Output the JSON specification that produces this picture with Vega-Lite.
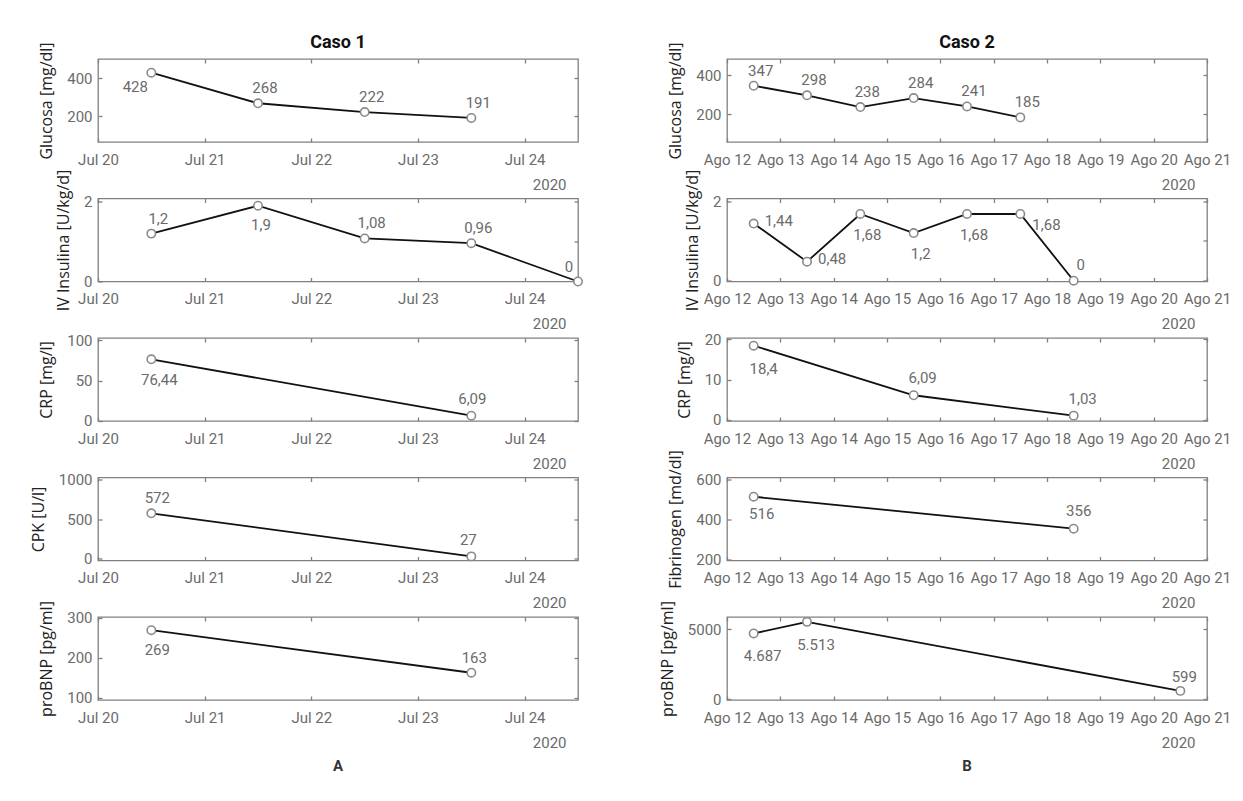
{
  "$schema": "https://vega.github.io/schema/vega-lite/v6.json",
  "background": "white",
  "padding": {"left": 29, "top": 33, "right": 5, "bottom": 5},
  "config": {
    "locale": {
      "number": {"decimal": ",", "thousands": ".", "grouping": [3], "currency": ["", " €"]},
      "time": {"dateTime": "%A, %e de %B de %Y, %X", "date": "%d/%m/%Y", "time": "%H:%M:%S", "periods": ["AM", "PM"],
        "days": ["domingo", "lunes", "martes", "miércoles", "jueves", "viernes", "sábado"],
        "shortDays": ["dom", "lun", "mar", "mié", "jue", "vie", "sáb"],
        "months": ["enero", "febrero", "marzo", "abril", "mayo", "junio", "julio", "agosto", "septiembre", "octubre", "noviembre", "diciembre"],
        "shortMonths": ["Ene", "Feb", "Mar", "Abr", "May", "Jun", "Jul", "Ago", "Sep", "Oct", "Nov", "Dic"]}
    },
    "view": {"stroke": "#808080", "strokeWidth": 1.3},
    "axis": {"domain": false, "grid": false, "tickSize": -4, "tickColor": "#808080", "tickWidth": 1.3,
      "labelFont": "Roboto", "labelFontSize": 15, "labelColor": "#6b6b6b",
      "labelFlush": false, "labelOverlap": false,
      "titleFont": "Open Sans", "titleFontSize": 16, "titleFontWeight": "normal", "titleColor": "#222"},
    "axisBottom": {"labelPadding": 14},
    "axisLeft": {"labelPadding": 10, "titlePadding": 12},
    "axisTop": {"labels": false},
    "axisRight": {"labels": false},
    "title": {"font": "Roboto", "fontSize": 18, "fontWeight": "bold", "color": "#111", "frame": "group", "anchor": "middle", "offset": -10, "baseline": "alphabetic"},
    "text": {"font": "Roboto", "fontSize": 15, "color": "#6b6b6b", "baseline": "middle", "align": "center"}
  },
  "datasets": {
    "c1_glu": [{"fecha": "2020-07-20T12:00", "valor": 428}, {"fecha": "2020-07-21T12:00", "valor": 268}, {"fecha": "2020-07-22T12:00", "valor": 222}, {"fecha": "2020-07-23T12:00", "valor": 191}],
    "c1_ins": [{"fecha": "2020-07-20T12:00", "valor": 1.2}, {"fecha": "2020-07-21T12:00", "valor": 1.9}, {"fecha": "2020-07-22T12:00", "valor": 1.08}, {"fecha": "2020-07-23T12:00", "valor": 0.96}, {"fecha": "2020-07-24T12:00", "valor": 0}],
    "c1_crp": [{"fecha": "2020-07-20T12:00", "valor": 76.44}, {"fecha": "2020-07-23T12:00", "valor": 6.09}],
    "c1_cpk": [{"fecha": "2020-07-20T12:00", "valor": 572}, {"fecha": "2020-07-23T12:00", "valor": 27}],
    "c1_bnp": [{"fecha": "2020-07-20T12:00", "valor": 269}, {"fecha": "2020-07-23T12:00", "valor": 163}],
    "c2_glu": [{"fecha": "2020-08-12T12:00", "valor": 347}, {"fecha": "2020-08-13T12:00", "valor": 298}, {"fecha": "2020-08-14T12:00", "valor": 238}, {"fecha": "2020-08-15T12:00", "valor": 284}, {"fecha": "2020-08-16T12:00", "valor": 241}, {"fecha": "2020-08-17T12:00", "valor": 185}],
    "c2_ins": [{"fecha": "2020-08-12T12:00", "valor": 1.44}, {"fecha": "2020-08-13T12:00", "valor": 0.48}, {"fecha": "2020-08-14T12:00", "valor": 1.68}, {"fecha": "2020-08-15T12:00", "valor": 1.2}, {"fecha": "2020-08-16T12:00", "valor": 1.68}, {"fecha": "2020-08-17T12:00", "valor": 1.68}, {"fecha": "2020-08-18T12:00", "valor": 0}],
    "c2_crp": [{"fecha": "2020-08-12T12:00", "valor": 18.4}, {"fecha": "2020-08-15T12:00", "valor": 6.09}, {"fecha": "2020-08-18T12:00", "valor": 1.03}],
    "c2_fib": [{"fecha": "2020-08-12T12:00", "valor": 516}, {"fecha": "2020-08-18T12:00", "valor": 356}],
    "c2_bnp": [{"fecha": "2020-08-12T12:00", "valor": 4687}, {"fecha": "2020-08-13T12:00", "valor": 5513}, {"fecha": "2020-08-20T12:00", "valor": 599}]
  },
  "columns": 2,
  "spacing": {"row": 56.5, "column": 149},
  "bounds": "flush",
  "concat": [
    {"width": 480, "height": 83, "data": {"name": "c1_glu"}, "title": {"text": "Caso 1"},
     "encoding": {"x": {"field": "fecha", "type": "temporal", "scale": {"domain": [{"year": 2020, "month": 7, "date": 20}, {"year": 2020, "month": 7, "date": 24, "hours": 12}], "nice": false}, "axis": null},
                  "y": {"field": "valor", "type": "quantitative", "scale": {"domain": [65, 500], "nice": false, "zero": false}, "axis": null}},
     "layer": [
       {"mark": {"type": "line", "color": "#111", "strokeWidth": 1.8},
        "encoding": {"x": {"field": "fecha", "type": "temporal", "scale": {"domain": [{"year": 2020, "month": 7, "date": 20}, {"year": 2020, "month": 7, "date": 24, "hours": 12}], "nice": false}, "axis": {"orient": "bottom", "title": "2020", "format": "%b %-d", "tickCount": {"interval": "day", "step": 1}, "titleX": 468, "titleY": 47, "titleAlign": "right", "titleBaseline": "alphabetic", "titleFont": "Roboto", "titleFontSize": 15, "titleColor": "#6b6b6b"}},
                     "y": {"field": "valor", "type": "quantitative", "scale": {"domain": [65, 500], "nice": false, "zero": false}, "axis": {"orient": "left", "title": "Glucosa [mg/dl]", "values": [200, 400], "format": "d"}}}},
       {"mark": {"type": "point", "shape": "circle", "fill": "white", "stroke": "#8a8a8a", "strokeWidth": 1.6, "size": 70, "opacity": 1},
        "encoding": {"x": {"field": "fecha", "type": "temporal", "scale": {"domain": [{"year": 2020, "month": 7, "date": 20}, {"year": 2020, "month": 7, "date": 24, "hours": 12}], "nice": false}, "axis": {"orient": "top", "title": null, "tickCount": {"interval": "day", "step": 1}}},
                     "y": {"field": "valor", "type": "quantitative", "scale": {"domain": [65, 500], "nice": false, "zero": false}, "axis": {"orient": "right", "title": null, "values": [200, 400]}}}},
       {"transform": [{"filter": "datum.valor != 428"}], "mark": {"type": "text", "dx": 7, "dy": -15}, "encoding": {"text": {"field": "valor", "type": "quantitative", "format": ",.4~r"}}},
       {"transform": [{"filter": "datum.valor == 428"}], "mark": {"type": "text", "dx": -16, "dy": 14}, "encoding": {"text": {"field": "valor", "type": "quantitative", "format": ",.4~r"}}}
     ],
     "resolve": {"axis": {"x": "independent", "y": "independent"}}},

    {"width": 480, "height": 83, "data": {"name": "c2_glu"}, "title": {"text": "Caso 2"},
     "encoding": {"x": {"field": "fecha", "type": "temporal", "scale": {"domain": [{"year": 2020, "month": 8, "date": 12}, {"year": 2020, "month": 8, "date": 21}], "nice": false}, "axis": null},
                  "y": {"field": "valor", "type": "quantitative", "scale": {"domain": [59, 484], "nice": false, "zero": false}, "axis": null}},
     "layer": [
       {"mark": {"type": "line", "color": "#111", "strokeWidth": 1.8},
        "encoding": {"x": {"field": "fecha", "type": "temporal", "scale": {"domain": [{"year": 2020, "month": 8, "date": 12}, {"year": 2020, "month": 8, "date": 21}], "nice": false}, "axis": {"orient": "bottom", "title": "2020", "format": "%b %-d", "tickCount": {"interval": "day", "step": 1}, "titleX": 468, "titleY": 47, "titleAlign": "right", "titleBaseline": "alphabetic", "titleFont": "Roboto", "titleFontSize": 15, "titleColor": "#6b6b6b"}},
                     "y": {"field": "valor", "type": "quantitative", "scale": {"domain": [59, 484], "nice": false, "zero": false}, "axis": {"orient": "left", "title": "Glucosa [mg/dl]", "values": [200, 400], "format": "d"}}}},
       {"mark": {"type": "point", "shape": "circle", "fill": "white", "stroke": "#8a8a8a", "strokeWidth": 1.6, "size": 70, "opacity": 1},
        "encoding": {"x": {"field": "fecha", "type": "temporal", "scale": {"domain": [{"year": 2020, "month": 8, "date": 12}, {"year": 2020, "month": 8, "date": 21}], "nice": false}, "axis": {"orient": "top", "title": null, "tickCount": {"interval": "day", "step": 1}}},
                     "y": {"field": "valor", "type": "quantitative", "scale": {"domain": [59, 484], "nice": false, "zero": false}, "axis": {"orient": "right", "title": null, "values": [200, 400]}}}},
       {"mark": {"type": "text", "dx": 7, "dy": -15}, "encoding": {"text": {"field": "valor", "type": "quantitative", "format": ",.4~r"}}}
     ],
     "resolve": {"axis": {"x": "independent", "y": "independent"}}},

    {"width": 480, "height": 83, "data": {"name": "c1_ins"},
     "encoding": {"x": {"field": "fecha", "type": "temporal", "scale": {"domain": [{"year": 2020, "month": 7, "date": 20}, {"year": 2020, "month": 7, "date": 24, "hours": 12}], "nice": false}, "axis": null},
                  "y": {"field": "valor", "type": "quantitative", "scale": {"domain": [0, 2.08], "nice": false, "zero": false}, "axis": null}},
     "layer": [
       {"mark": {"type": "line", "color": "#111", "strokeWidth": 1.8},
        "encoding": {"x": {"field": "fecha", "type": "temporal", "scale": {"domain": [{"year": 2020, "month": 7, "date": 20}, {"year": 2020, "month": 7, "date": 24, "hours": 12}], "nice": false}, "axis": {"orient": "bottom", "title": "2020", "format": "%b %-d", "tickCount": {"interval": "day", "step": 1}, "titleX": 468, "titleY": 47, "titleAlign": "right", "titleBaseline": "alphabetic", "titleFont": "Roboto", "titleFontSize": 15, "titleColor": "#6b6b6b"}},
                     "y": {"field": "valor", "type": "quantitative", "scale": {"domain": [0, 2.08], "nice": false, "zero": false}, "axis": {"orient": "left", "title": "IV Insulina [U/kg/d]", "values": [0, 1, 2], "format": "d"}}}},
       {"mark": {"type": "point", "shape": "circle", "fill": "white", "stroke": "#8a8a8a", "strokeWidth": 1.6, "size": 70, "opacity": 1},
        "encoding": {"x": {"field": "fecha", "type": "temporal", "scale": {"domain": [{"year": 2020, "month": 7, "date": 20}, {"year": 2020, "month": 7, "date": 24, "hours": 12}], "nice": false}, "axis": {"orient": "top", "title": null, "tickCount": {"interval": "day", "step": 1}}},
                     "y": {"field": "valor", "type": "quantitative", "scale": {"domain": [0, 2.08], "nice": false, "zero": false}, "axis": {"orient": "right", "title": null, "values": [0, 1, 2]}}}},
       {"transform": [{"filter": "datum.valor != 1.9 && datum.valor != 0"}], "mark": {"type": "text", "dx": 7, "dy": -15}, "encoding": {"text": {"field": "valor", "type": "quantitative", "format": ",.4~r"}}},
       {"transform": [{"filter": "datum.valor == 1.9"}], "mark": {"type": "text", "dx": 3, "dy": 19}, "encoding": {"text": {"field": "valor", "type": "quantitative", "format": ",.4~r"}}},
       {"transform": [{"filter": "datum.valor == 0"}], "mark": {"type": "text", "dx": -9, "dy": -15}, "encoding": {"text": {"field": "valor", "type": "quantitative", "format": ",.4~r"}}}
     ],
     "resolve": {"axis": {"x": "independent", "y": "independent"}}},

    {"width": 480, "height": 83, "data": {"name": "c2_ins"},
     "encoding": {"x": {"field": "fecha", "type": "temporal", "scale": {"domain": [{"year": 2020, "month": 8, "date": 12}, {"year": 2020, "month": 8, "date": 21}], "nice": false}, "axis": null},
                  "y": {"field": "valor", "type": "quantitative", "scale": {"domain": [-0.02, 2.07], "nice": false, "zero": false}, "axis": null}},
     "layer": [
       {"mark": {"type": "line", "color": "#111", "strokeWidth": 1.8},
        "encoding": {"x": {"field": "fecha", "type": "temporal", "scale": {"domain": [{"year": 2020, "month": 8, "date": 12}, {"year": 2020, "month": 8, "date": 21}], "nice": false}, "axis": {"orient": "bottom", "title": "2020", "format": "%b %-d", "tickCount": {"interval": "day", "step": 1}, "titleX": 468, "titleY": 47, "titleAlign": "right", "titleBaseline": "alphabetic", "titleFont": "Roboto", "titleFontSize": 15, "titleColor": "#6b6b6b"}},
                     "y": {"field": "valor", "type": "quantitative", "scale": {"domain": [-0.02, 2.07], "nice": false, "zero": false}, "axis": {"orient": "left", "title": "IV Insulina [U/kg/d]", "values": [0, 1, 2], "format": "d"}}}},
       {"mark": {"type": "point", "shape": "circle", "fill": "white", "stroke": "#8a8a8a", "strokeWidth": 1.6, "size": 70, "opacity": 1},
        "encoding": {"x": {"field": "fecha", "type": "temporal", "scale": {"domain": [{"year": 2020, "month": 8, "date": 12}, {"year": 2020, "month": 8, "date": 21}], "nice": false}, "axis": {"orient": "top", "title": null, "tickCount": {"interval": "day", "step": 1}}},
                     "y": {"field": "valor", "type": "quantitative", "scale": {"domain": [-0.02, 2.07], "nice": false, "zero": false}, "axis": {"orient": "right", "title": null, "values": [0, 1, 2]}}}},
       {"transform": [{"filter": "datum.valor == 0"}], "mark": {"type": "text", "dx": 7, "dy": -16}, "encoding": {"text": {"field": "valor", "type": "quantitative", "format": ",.4~r"}}},
       {"transform": [{"filter": "datum.valor == 1.44 || datum.valor == 0.48"}], "mark": {"type": "text", "align": "left", "dx": 11, "dy": -3}, "encoding": {"text": {"field": "valor", "type": "quantitative", "format": ",.4~r"}}},
       {"transform": [{"filter": "datum.valor == 1.68 && date(toDate(datum.fecha)) == 17"}], "mark": {"type": "text", "align": "left", "dx": 12, "dy": 11}, "encoding": {"text": {"field": "valor", "type": "quantitative", "format": ",.4~r"}}},
       {"transform": [{"filter": "datum.valor == 1.2 || (datum.valor == 1.68 && date(toDate(datum.fecha)) != 17)"}], "mark": {"type": "text", "dx": 7, "dy": 21}, "encoding": {"text": {"field": "valor", "type": "quantitative", "format": ",.4~r"}}}
     ],
     "resolve": {"axis": {"x": "independent", "y": "independent"}}},

    {"width": 480, "height": 83, "data": {"name": "c1_crp"},
     "encoding": {"x": {"field": "fecha", "type": "temporal", "scale": {"domain": [{"year": 2020, "month": 7, "date": 20}, {"year": 2020, "month": 7, "date": 24, "hours": 12}], "nice": false}, "axis": null},
                  "y": {"field": "valor", "type": "quantitative", "scale": {"domain": [-0.5, 103], "nice": false, "zero": false}, "axis": null}},
     "layer": [
       {"mark": {"type": "line", "color": "#111", "strokeWidth": 1.8},
        "encoding": {"x": {"field": "fecha", "type": "temporal", "scale": {"domain": [{"year": 2020, "month": 7, "date": 20}, {"year": 2020, "month": 7, "date": 24, "hours": 12}], "nice": false}, "axis": {"orient": "bottom", "title": "2020", "format": "%b %-d", "tickCount": {"interval": "day", "step": 1}, "titleX": 468, "titleY": 47, "titleAlign": "right", "titleBaseline": "alphabetic", "titleFont": "Roboto", "titleFontSize": 15, "titleColor": "#6b6b6b"}},
                     "y": {"field": "valor", "type": "quantitative", "scale": {"domain": [-0.5, 103], "nice": false, "zero": false}, "axis": {"orient": "left", "title": "CRP [mg/l]", "values": [0, 50, 100], "format": "d"}}}},
       {"mark": {"type": "point", "shape": "circle", "fill": "white", "stroke": "#8a8a8a", "strokeWidth": 1.6, "size": 70, "opacity": 1},
        "encoding": {"x": {"field": "fecha", "type": "temporal", "scale": {"domain": [{"year": 2020, "month": 7, "date": 20}, {"year": 2020, "month": 7, "date": 24, "hours": 12}], "nice": false}, "axis": {"orient": "top", "title": null, "tickCount": {"interval": "day", "step": 1}}},
                     "y": {"field": "valor", "type": "quantitative", "scale": {"domain": [-0.5, 103], "nice": false, "zero": false}, "axis": {"orient": "right", "title": null, "values": [0, 50, 100]}}}},
       {"transform": [{"filter": "datum.valor == 6.09"}], "mark": {"type": "text", "dx": 1, "dy": -17}, "encoding": {"text": {"field": "valor", "type": "quantitative", "format": ",.4~r"}}},
       {"transform": [{"filter": "datum.valor == 76.44"}], "mark": {"type": "text", "dx": 8, "dy": 21}, "encoding": {"text": {"field": "valor", "type": "quantitative", "format": ",.4~r"}}}
     ],
     "resolve": {"axis": {"x": "independent", "y": "independent"}}},

    {"width": 480, "height": 83, "data": {"name": "c2_crp"},
     "encoding": {"x": {"field": "fecha", "type": "temporal", "scale": {"domain": [{"year": 2020, "month": 8, "date": 12}, {"year": 2020, "month": 8, "date": 21}], "nice": false}, "axis": null},
                  "y": {"field": "valor", "type": "quantitative", "scale": {"domain": [-0.3, 20.3], "nice": false, "zero": false}, "axis": null}},
     "layer": [
       {"mark": {"type": "line", "color": "#111", "strokeWidth": 1.8},
        "encoding": {"x": {"field": "fecha", "type": "temporal", "scale": {"domain": [{"year": 2020, "month": 8, "date": 12}, {"year": 2020, "month": 8, "date": 21}], "nice": false}, "axis": {"orient": "bottom", "title": "2020", "format": "%b %-d", "tickCount": {"interval": "day", "step": 1}, "titleX": 468, "titleY": 47, "titleAlign": "right", "titleBaseline": "alphabetic", "titleFont": "Roboto", "titleFontSize": 15, "titleColor": "#6b6b6b"}},
                     "y": {"field": "valor", "type": "quantitative", "scale": {"domain": [-0.3, 20.3], "nice": false, "zero": false}, "axis": {"orient": "left", "title": "CRP [mg/l]", "values": [0, 10, 20], "format": "d"}}}},
       {"mark": {"type": "point", "shape": "circle", "fill": "white", "stroke": "#8a8a8a", "strokeWidth": 1.6, "size": 70, "opacity": 1},
        "encoding": {"x": {"field": "fecha", "type": "temporal", "scale": {"domain": [{"year": 2020, "month": 8, "date": 12}, {"year": 2020, "month": 8, "date": 21}], "nice": false}, "axis": {"orient": "top", "title": null, "tickCount": {"interval": "day", "step": 1}}},
                     "y": {"field": "valor", "type": "quantitative", "scale": {"domain": [-0.3, 20.3], "nice": false, "zero": false}, "axis": {"orient": "right", "title": null, "values": [0, 10, 20]}}}},
       {"transform": [{"filter": "datum.valor != 18.4"}], "mark": {"type": "text", "dx": 9, "dy": -17}, "encoding": {"text": {"field": "valor", "type": "quantitative", "format": ",.4~r"}}},
       {"transform": [{"filter": "datum.valor == 18.4"}], "mark": {"type": "text", "dx": 10, "dy": 23}, "encoding": {"text": {"field": "valor", "type": "quantitative", "format": ",.4~r"}}}
     ],
     "resolve": {"axis": {"x": "independent", "y": "independent"}}},

    {"width": 480, "height": 83, "data": {"name": "c1_cpk"},
     "encoding": {"x": {"field": "fecha", "type": "temporal", "scale": {"domain": [{"year": 2020, "month": 7, "date": 20}, {"year": 2020, "month": 7, "date": 24, "hours": 12}], "nice": false}, "axis": null},
                  "y": {"field": "valor", "type": "quantitative", "scale": {"domain": [-25, 1025], "nice": false, "zero": false}, "axis": null}},
     "layer": [
       {"mark": {"type": "line", "color": "#111", "strokeWidth": 1.8},
        "encoding": {"x": {"field": "fecha", "type": "temporal", "scale": {"domain": [{"year": 2020, "month": 7, "date": 20}, {"year": 2020, "month": 7, "date": 24, "hours": 12}], "nice": false}, "axis": {"orient": "bottom", "title": "2020", "format": "%b %-d", "tickCount": {"interval": "day", "step": 1}, "titleX": 468, "titleY": 47, "titleAlign": "right", "titleBaseline": "alphabetic", "titleFont": "Roboto", "titleFontSize": 15, "titleColor": "#6b6b6b"}},
                     "y": {"field": "valor", "type": "quantitative", "scale": {"domain": [-25, 1025], "nice": false, "zero": false}, "axis": {"orient": "left", "title": "CPK [U/l]", "values": [0, 500, 1000], "format": "d"}}}},
       {"mark": {"type": "point", "shape": "circle", "fill": "white", "stroke": "#8a8a8a", "strokeWidth": 1.6, "size": 70, "opacity": 1},
        "encoding": {"x": {"field": "fecha", "type": "temporal", "scale": {"domain": [{"year": 2020, "month": 7, "date": 20}, {"year": 2020, "month": 7, "date": 24, "hours": 12}], "nice": false}, "axis": {"orient": "top", "title": null, "tickCount": {"interval": "day", "step": 1}}},
                     "y": {"field": "valor", "type": "quantitative", "scale": {"domain": [-25, 1025], "nice": false, "zero": false}, "axis": {"orient": "right", "title": null, "values": [0, 500, 1000]}}}},
       {"transform": [{"filter": "datum.valor == 572"}], "mark": {"type": "text", "dx": 6, "dy": -15}, "encoding": {"text": {"field": "valor", "type": "quantitative", "format": ",.4~r"}}},
       {"transform": [{"filter": "datum.valor == 27"}], "mark": {"type": "text", "dx": -3, "dy": -16}, "encoding": {"text": {"field": "valor", "type": "quantitative", "format": ",.4~r"}}}
     ],
     "resolve": {"axis": {"x": "independent", "y": "independent"}}},

    {"width": 480, "height": 83, "data": {"name": "c2_fib"},
     "encoding": {"x": {"field": "fecha", "type": "temporal", "scale": {"domain": [{"year": 2020, "month": 8, "date": 12}, {"year": 2020, "month": 8, "date": 21}], "nice": false}, "axis": null},
                  "y": {"field": "valor", "type": "quantitative", "scale": {"domain": [197, 612], "nice": false, "zero": false}, "axis": null}},
     "layer": [
       {"mark": {"type": "line", "color": "#111", "strokeWidth": 1.8},
        "encoding": {"x": {"field": "fecha", "type": "temporal", "scale": {"domain": [{"year": 2020, "month": 8, "date": 12}, {"year": 2020, "month": 8, "date": 21}], "nice": false}, "axis": {"orient": "bottom", "title": "2020", "format": "%b %-d", "tickCount": {"interval": "day", "step": 1}, "titleX": 468, "titleY": 47, "titleAlign": "right", "titleBaseline": "alphabetic", "titleFont": "Roboto", "titleFontSize": 15, "titleColor": "#6b6b6b"}},
                     "y": {"field": "valor", "type": "quantitative", "scale": {"domain": [197, 612], "nice": false, "zero": false}, "axis": {"orient": "left", "title": "Fibrinogen [md/dl]", "values": [200, 400, 600], "format": "d"}}}},
       {"mark": {"type": "point", "shape": "circle", "fill": "white", "stroke": "#8a8a8a", "strokeWidth": 1.6, "size": 70, "opacity": 1},
        "encoding": {"x": {"field": "fecha", "type": "temporal", "scale": {"domain": [{"year": 2020, "month": 8, "date": 12}, {"year": 2020, "month": 8, "date": 21}], "nice": false}, "axis": {"orient": "top", "title": null, "tickCount": {"interval": "day", "step": 1}}},
                     "y": {"field": "valor", "type": "quantitative", "scale": {"domain": [197, 612], "nice": false, "zero": false}, "axis": {"orient": "right", "title": null, "values": [200, 400, 600]}}}},
       {"transform": [{"filter": "datum.valor == 356"}], "mark": {"type": "text", "dx": 5, "dy": -18}, "encoding": {"text": {"field": "valor", "type": "quantitative", "format": ",.4~r"}}},
       {"transform": [{"filter": "datum.valor == 516"}], "mark": {"type": "text", "dx": 8, "dy": 17}, "encoding": {"text": {"field": "valor", "type": "quantitative", "format": ",.4~r"}}}
     ],
     "resolve": {"axis": {"x": "independent", "y": "independent"}}},

    {"width": 480, "height": 83, "data": {"name": "c1_bnp"}, "title": {"text": "A", "orient": "bottom", "fontSize": 15, "color": "#333", "baseline": "top", "offset": 9},
     "encoding": {"x": {"field": "fecha", "type": "temporal", "scale": {"domain": [{"year": 2020, "month": 7, "date": 20}, {"year": 2020, "month": 7, "date": 24, "hours": 12}], "nice": false}, "axis": null},
                  "y": {"field": "valor", "type": "quantitative", "scale": {"domain": [95, 302], "nice": false, "zero": false}, "axis": null}},
     "layer": [
       {"mark": {"type": "line", "color": "#111", "strokeWidth": 1.8},
        "encoding": {"x": {"field": "fecha", "type": "temporal", "scale": {"domain": [{"year": 2020, "month": 7, "date": 20}, {"year": 2020, "month": 7, "date": 24, "hours": 12}], "nice": false}, "axis": {"orient": "bottom", "title": "2020", "format": "%b %-d", "tickCount": {"interval": "day", "step": 1}, "titleX": 468, "titleY": 47, "titleAlign": "right", "titleBaseline": "alphabetic", "titleFont": "Roboto", "titleFontSize": 15, "titleColor": "#6b6b6b"}},
                     "y": {"field": "valor", "type": "quantitative", "scale": {"domain": [95, 302], "nice": false, "zero": false}, "axis": {"orient": "left", "title": "proBNP [pg/ml]", "values": [100, 200, 300], "format": "d"}}}},
       {"mark": {"type": "point", "shape": "circle", "fill": "white", "stroke": "#8a8a8a", "strokeWidth": 1.6, "size": 70, "opacity": 1},
        "encoding": {"x": {"field": "fecha", "type": "temporal", "scale": {"domain": [{"year": 2020, "month": 7, "date": 20}, {"year": 2020, "month": 7, "date": 24, "hours": 12}], "nice": false}, "axis": {"orient": "top", "title": null, "tickCount": {"interval": "day", "step": 1}}},
                     "y": {"field": "valor", "type": "quantitative", "scale": {"domain": [95, 302], "nice": false, "zero": false}, "axis": {"orient": "right", "title": null, "values": [100, 200, 300]}}}},
       {"transform": [{"filter": "datum.valor == 163"}], "mark": {"type": "text", "dx": 3, "dy": -15}, "encoding": {"text": {"field": "valor", "type": "quantitative", "format": ",.4~r"}}},
       {"transform": [{"filter": "datum.valor == 269"}], "mark": {"type": "text", "dx": 6, "dy": 20}, "encoding": {"text": {"field": "valor", "type": "quantitative", "format": ",.4~r"}}}
     ],
     "resolve": {"axis": {"x": "independent", "y": "independent"}}},

    {"width": 480, "height": 83, "data": {"name": "c2_bnp"}, "title": {"text": "B", "orient": "bottom", "fontSize": 15, "color": "#333", "baseline": "top", "offset": 9},
     "encoding": {"x": {"field": "fecha", "type": "temporal", "scale": {"domain": [{"year": 2020, "month": 8, "date": 12}, {"year": 2020, "month": 8, "date": 21}], "nice": false}, "axis": null},
                  "y": {"field": "valor", "type": "quantitative", "scale": {"domain": [-50, 5860], "nice": false, "zero": false}, "axis": null}},
     "layer": [
       {"mark": {"type": "line", "color": "#111", "strokeWidth": 1.8},
        "encoding": {"x": {"field": "fecha", "type": "temporal", "scale": {"domain": [{"year": 2020, "month": 8, "date": 12}, {"year": 2020, "month": 8, "date": 21}], "nice": false}, "axis": {"orient": "bottom", "title": "2020", "format": "%b %-d", "tickCount": {"interval": "day", "step": 1}, "titleX": 468, "titleY": 47, "titleAlign": "right", "titleBaseline": "alphabetic", "titleFont": "Roboto", "titleFontSize": 15, "titleColor": "#6b6b6b"}},
                     "y": {"field": "valor", "type": "quantitative", "scale": {"domain": [-50, 5860], "nice": false, "zero": false}, "axis": {"orient": "left", "title": "proBNP [pg/ml]", "values": [0, 5000], "format": "d"}}}},
       {"mark": {"type": "point", "shape": "circle", "fill": "white", "stroke": "#8a8a8a", "strokeWidth": 1.6, "size": 70, "opacity": 1},
        "encoding": {"x": {"field": "fecha", "type": "temporal", "scale": {"domain": [{"year": 2020, "month": 8, "date": 12}, {"year": 2020, "month": 8, "date": 21}], "nice": false}, "axis": {"orient": "top", "title": null, "tickCount": {"interval": "day", "step": 1}}},
                     "y": {"field": "valor", "type": "quantitative", "scale": {"domain": [-50, 5860], "nice": false, "zero": false}, "axis": {"orient": "right", "title": null, "values": [0, 5000]}}}},
       {"transform": [{"filter": "datum.valor == 599"}], "mark": {"type": "text", "dx": 4, "dy": -14}, "encoding": {"text": {"field": "valor", "type": "quantitative", "format": ",.4~r"}}},
       {"transform": [{"filter": "datum.valor != 599"}], "mark": {"type": "text", "dx": 9, "dy": 23}, "encoding": {"text": {"field": "valor", "type": "quantitative", "format": ",.4~r"}}}
     ],
     "resolve": {"axis": {"x": "independent", "y": "independent"}}}
  ]
}
